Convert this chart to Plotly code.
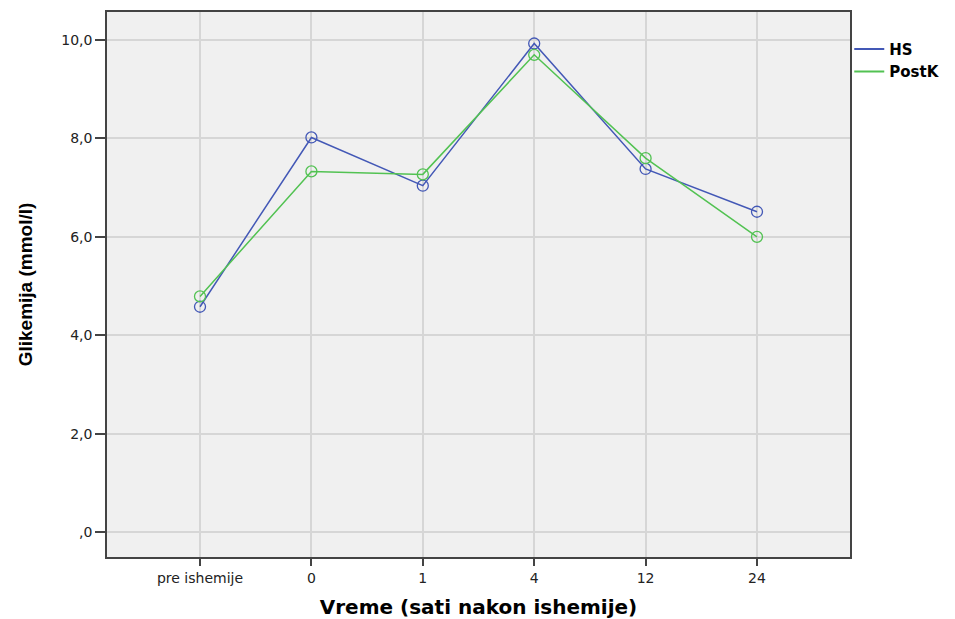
import plotly.graph_objects as go

categories = ["pre ishemije", "0", "1", "4", "12", "24"]
hs = [4.58, 8.02, 7.04, 9.93, 7.38, 6.51]
postk = [4.79, 7.33, 7.27, 9.70, 7.60, 6.00]
y_ticks = [0, 2, 4, 6, 8, 10]
y_ticktext = [",0", "2,0", "4,0", "6,0", "8,0", "10,0"]

series = [("HS", hs, "#4358B6"), ("PostK", postk, "#52C252")]

fig = go.Figure()
xs = list(range(len(categories)))
for name, vals, col in series:
    fig.add_trace(go.Scatter(
        x=xs, y=vals, name=name, mode="lines+markers", showlegend=False,
        line=dict(color=col, width=1.5),
        marker=dict(symbol="circle-open", size=11, color=col, line=dict(width=1.3)),
    ))
for name, vals, col in series:
    fig.add_trace(go.Scatter(
        x=[None], y=[None], name="<b>" + name + "</b>", mode="lines",
        line=dict(color=col, width=2),
    ))

tick_font = dict(size=14, family="DejaVu Sans, sans-serif", color="#222222")

fig.update_layout(
    width=955, height=619,
    margin=dict(l=99, r=113, t=2, b=70),
    paper_bgcolor="white", plot_bgcolor="#F0F0F0",
    font=dict(family="DejaVu Sans, sans-serif", color="black", size=13),
    showlegend=True,
    legend=dict(x=0.999, y=0.962, xanchor="left", yanchor="top",
                font=dict(size=15, family="DejaVu Sans, sans-serif", color="black"),
                bgcolor="rgba(0,0,0,0)", itemwidth=30, tracegroupgap=0),
)
fig.update_xaxes(
    range=[-0.835, 5.835], tickmode="array", tickvals=xs,
    ticktext=categories, showgrid=True, gridcolor="#D6D6D6", gridwidth=1.5,
    zeroline=False, showline=True, linecolor="#444444", linewidth=1.5, mirror=True,
    ticks="outside", ticklen=7, tickcolor="#444444", tickwidth=1.5,
    tickfont=tick_font,
    title=dict(text="<b>Vreme (sati nakon ishemije)</b>",
               font=dict(size=20, family="DejaVu Sans, sans-serif"), standoff=15),
)
fig.update_yaxes(
    range=[-0.506, 10.57], tickmode="array", tickvals=y_ticks, ticktext=y_ticktext,
    showgrid=True, gridcolor="#D6D6D6", gridwidth=1.5,
    zeroline=False, showline=True, linecolor="#444444", linewidth=1.5, mirror=True,
    ticks="outside", ticklen=10, tickcolor="#444444", tickwidth=1.5,
    tickfont=tick_font,
    title=dict(text="<b>Glikemija (mmol/l)</b>",
               font=dict(size=19, family="Liberation Sans Narrow, Arial Narrow, Liberation Sans, sans-serif"),
               standoff=24),
)

fig.write_html("out.html")
